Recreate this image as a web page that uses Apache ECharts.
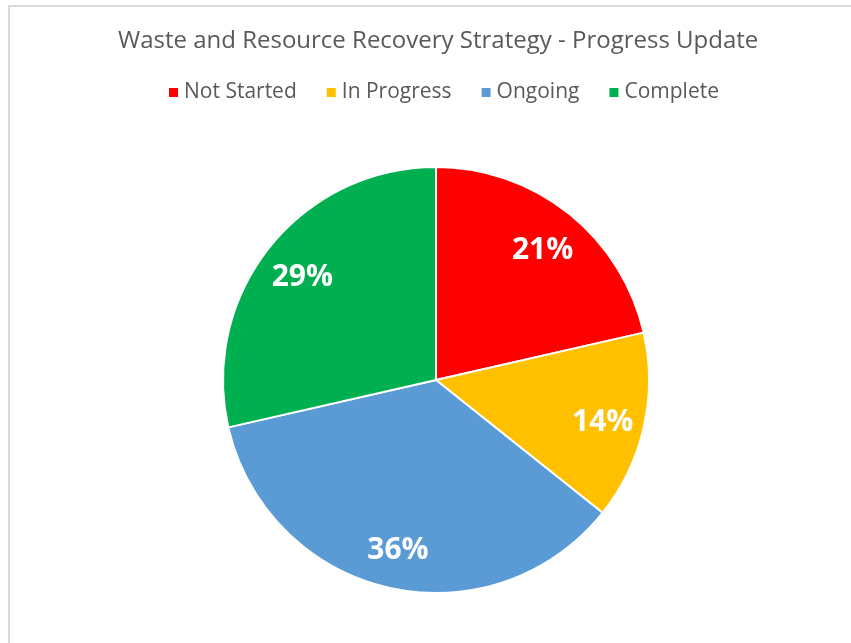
<!DOCTYPE html>
<html>
<head>
<meta charset="utf-8">
<script src="https://cdn.jsdelivr.net/npm/echarts@6/dist/echarts.min.js"></script>
<style>
  html, body { margin: 0; padding: 0; background: #ffffff; }
  #frame {
    position: absolute; left: 8px; top: 5px; width: 900px; height: 700px;
    border-left: 2px solid #d9d9d9; border-top: 2px solid #d9d9d9;
  }
  #chart { position: absolute; left: 0; top: 0; width: 851px; height: 643px; }
</style>
</head>
<body>
<div id="frame"></div>
<div id="chart"></div>
<script>
// status categories and counts of actions
const categories = ['Not Started', 'In Progress', 'Ongoing', 'Complete'];
const counts = [3, 2, 5, 4];
const colors = ['#ff0000', '#ffc000', '#5b9bd5', '#00b050'];

const chart = echarts.init(document.getElementById('chart'));

const pieData = categories.map((name, i) => ({ name: name, value: counts[i] }));

chart.setOption({
  animation: false,
  color: colors,
  title: {
    text: 'Waste and Resource Recovery Strategy - Progress Update',
    left: 113,
    top: 24,
    textStyle: { fontFamily: 'Open Sans', fontWeight: 'normal', fontSize: 24, color: '#595959' }
  },
  legend: {
    top: 77,
    left: 162,
    icon: 'rect',
    itemWidth: 11,
    itemHeight: 11,
    itemGap: 28,
    textStyle: { fontFamily: 'Open Sans', fontSize: 21, color: '#595959' },
    data: categories
  },
  series: [
    {
      type: 'pie',
      center: [436, 380],
      radius: [0, 213],
      startAngle: 90,
      clockwise: true,
      label: { show: false },
      labelLine: { show: false },
      itemStyle: { borderColor: '#ffffff', borderWidth: 2 },
      emphasis: { disabled: true },
      data: pieData
    },
    {
      // transparent ring used only to place labels further out
      type: 'pie',
      center: [436, 384],
      radius: [123, 213],
      startAngle: 90,
      clockwise: true,
      silent: true,
      itemStyle: { color: 'rgba(0,0,0,0)' },
      label: {
        show: true,
        position: 'inside',
        formatter: p => Math.round(p.percent) + '%',
        fontFamily: 'Open Sans',
        fontWeight: 'bold',
        fontSize: 30,
        color: '#ffffff'
      },
      labelLine: { show: false },
      emphasis: { disabled: true },
      data: pieData
    }
  ]
});
</script>
</body>
</html>
